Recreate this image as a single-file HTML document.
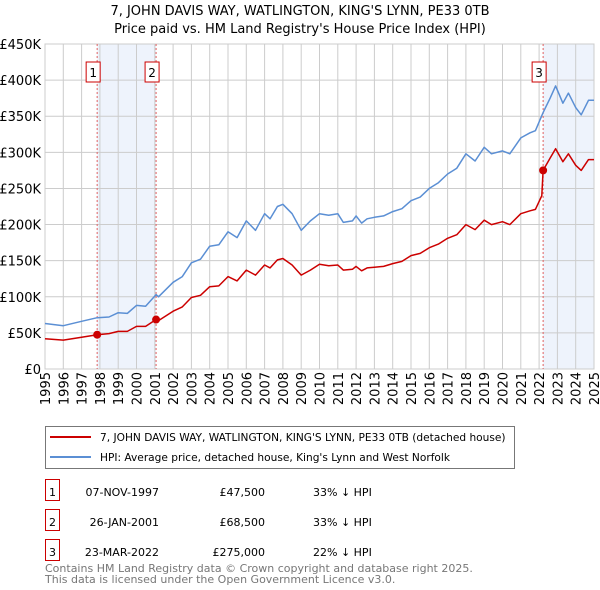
<!DOCTYPE html>
<html><head><meta charset="utf-8"><style>
body{margin:0;background:#fff;font-family:"Liberation Sans","DejaVu Sans",sans-serif;}
#wrap{position:relative;width:600px;height:590px;overflow:hidden}
</style></head><body>
<div id="wrap">
<svg id="chart" width="600" height="590" font-family="DejaVu Sans, Liberation Sans, sans-serif"></svg>
</div>
<script>
const hpiYears=[1995,1996,1997,1997.85,1998.5,1999,1999.5,2000,2000.5,2001.07,2001.2,2002,2002.5,2003,2003.5,2004,2004.5,2005,2005.5,2006,2006.5,2007,2007.3,2007.7,2008,2008.5,2009,2009.5,2010,2010.5,2011,2011.3,2011.8,2012,2012.3,2012.6,2013,2013.5,2014,2014.5,2015,2015.5,2016,2016.5,2017,2017.5,2018,2018.5,2019,2019.4,2020,2020.4,2021,2021.5,2021.8,2022.22,2022.6,2022.9,2023.3,2023.6,2024,2024.3,2024.7,2025];
const hpiValues=[63,60,66,71,72,78,77,88,87,103,100,120,128,147,152,170,172,190,182,205,192,215,208,225,228,215,192,205,215,213,215,203,205,212,202,208,210,212,218,222,233,238,250,258,270,278,298,288,307,298,302,298,320,327,330,355,375,392,368,382,362,352,372,372];
const redYears=[1995,1996,1997,1997.85,1998.5,1999,1999.5,2000,2000.5,2001.07,2001.2,2002,2002.5,2003,2003.5,2004,2004.5,2005,2005.5,2006,2006.5,2007,2007.3,2007.7,2008,2008.5,2009,2009.5,2010,2010.5,2011,2011.3,2011.8,2012,2012.3,2012.6,2013,2013.5,2014,2014.5,2015,2015.5,2016,2016.5,2017,2017.5,2018,2018.5,2019,2019.4,2020,2020.4,2021,2021.5,2021.8,2022.15,2022.22,2022.6,2022.9,2023.3,2023.6,2024,2024.3,2024.7,2025];
const redValues=[42,40,44,47.5,49,52,52,59,59,68.5,67,80,86,99,102,114,115,128,122,137,130,144,140,151,153,144,130,137,145,143,144,137,138,142,136,140,141,142,146,149,157,160,168,173,181,186,200,193,206,200,204,200,215,219,221,240,275,292,305,287,298,282,275,290,290];
const saleYears=[1997.85,2001.07,2022.22];
const saleValues=[47.5,68.5,275];
const saleLabels=["1","2","3"];
const yTicks=[0,50,100,150,200,250,300,350,400,450];
const yTickLabels=["£0","£50K","£100K","£150K","£200K","£250K","£300K","£350K","£400K","£450K"];
const xTicks=[1995,1996,1997,1998,1999,2000,2001,2002,2003,2004,2005,2006,2007,2008,2009,2010,2011,2012,2013,2014,2015,2016,2017,2018,2019,2020,2021,2022,2023,2024,2025];

const NS="http://www.w3.org/2000/svg";
const svg=document.getElementById('chart');
const L=45,R=594,T=44,B=369;
const xs=y=>L+(y-1995)/(2025-1995)*(R-L);
const ys=v=>B-v/450*(B-T);
function el(tag,attrs,parent){const e=document.createElementNS(NS,tag);for(const k in attrs)e.setAttribute(k,attrs[k]);(parent||svg).appendChild(e);return e;}
function txt(s,attrs){const t=el('text',attrs);t.textContent=s;return t;}

let t=txt("7, JOHN DAVIS WAY, WATLINGTON, KING'S LYNN, PE33 0TB",{x:300,y:15,'text-anchor':'middle','font-size':13,fill:'#000'});

t=txt("Price paid vs. HM Land Registry's House Price Index (HPI)",{x:300,y:33,'text-anchor':'middle','font-size':13,fill:'#000'});


let r=el('rect',{x:xs(saleYears[0]),y:T,width:xs(saleYears[1])-xs(saleYears[0]),height:B-T,fill:'#eef3fc'});

r=el('rect',{x:xs(saleYears[2]),y:T,width:R-xs(saleYears[2]),height:B-T,fill:'#eef3fc'});


const grid=el('g',{stroke:'#cccccc','stroke-width':1});

yTicks.forEach((v,i)=>{el('line',{x1:L,x2:R,y1:ys(v),y2:ys(v)},grid);
 const lb=txt(yTickLabels[i],{x:L-4,y:ys(v)+5,'text-anchor':'end','font-size':13,fill:'#000'});
 });
xTicks.forEach(y=>{el('line',{x1:xs(y),x2:xs(y),y1:T,y2:B},grid);
 const lb=txt(String(y),{x:0,y:0,'text-anchor':'end','font-size':13,fill:'#000',transform:`translate(${xs(y)+5},${B+3}) rotate(-90)`});
 });
el('rect',{x:L,y:T,width:R-L,height:B-T,fill:'none',stroke:'#cccccc'});

saleYears.forEach((y,i)=>{
 const ln=el('line',{x1:xs(y),x2:xs(y),y1:T,y2:B,stroke:'#e06060','stroke-dasharray':'2,2','stroke-width':1});
 
 const bx=el('rect',{x:xs(y)-11,y:62,width:14,height:20,fill:'#fff',stroke:'#cc0000','stroke-width':1});
 
 const tl=txt(saleLabels[i],{x:xs(y)-4,y:77,'text-anchor':'middle','font-size':12,fill:'#000'});
 
});

const pth=(xa,va)=>xa.map((y,i)=>(i?'L':'M')+xs(y).toFixed(1)+','+ys(va[i]).toFixed(1)).join('');
let p=el('path',{d:pth(hpiYears,hpiValues),fill:'none',stroke:'#5b8fd4','stroke-width':1.5,'stroke-linejoin':'round'});

p=el('path',{d:pth(redYears,redValues),fill:'none',stroke:'#cc0000','stroke-width':1.5,'stroke-linejoin':'round'});

saleYears.forEach((y,i)=>{const c=el('circle',{cx:xs(y),cy:ys(saleValues[i]),r:4,fill:'#cc0000'});
 });

const lg=el('g',{});
el('rect',{x:45.5,y:426.5,width:469,height:42,fill:'#fff',stroke:'#777'},lg);
el('line',{x1:50,x2:91,y1:437,y2:437,stroke:'#cc0000','stroke-width':2},lg);
el('line',{x1:50,x2:91,y1:457,y2:457,stroke:'#5b8fd4','stroke-width':2},lg);
t=txt("7, JOHN DAVIS WAY, WATLINGTON, KING'S LYNN, PE33 0TB (detached house)",{x:100,y:441,'font-size':10.6,fill:'#000'});

t=txt("HPI: Average price, detached house, King's Lynn and West Norfolk",{x:100,y:461,'font-size':10.6,fill:'#000'});


const rows=[["07-NOV-1997","£47,500","33% ↓ HPI"],["26-JAN-2001","£68,500","33% ↓ HPI"],["23-MAR-2022","£275,000","22% ↓ HPI"]];
rows.forEach((row,i)=>{const y=492+i*30;
 const bx=el('rect',{x:45.5,y:y-12.5,width:14,height:21,fill:'#fff',stroke:'#cc0000'});
 
 let a=txt(String(i+1),{x:52.5,y:y+4,'text-anchor':'middle','font-size':11});
 a=txt(row[0],{x:159,y:y+4,'text-anchor':'end','font-size':11});
 a=txt(row[1],{x:265,y:y+4,'text-anchor':'end','font-size':11});
 a=txt(row[2],{x:313,y:y+4,'font-size':11});
});
t=txt("Contains HM Land Registry data © Crown copyright and database right 2025.",{x:45,y:572,'font-size':11,fill:'#777'});

t=txt("This data is licensed under the Open Government Licence v3.0.",{x:45,y:583,'font-size':11,fill:'#777'});

</script>
</body></html>
